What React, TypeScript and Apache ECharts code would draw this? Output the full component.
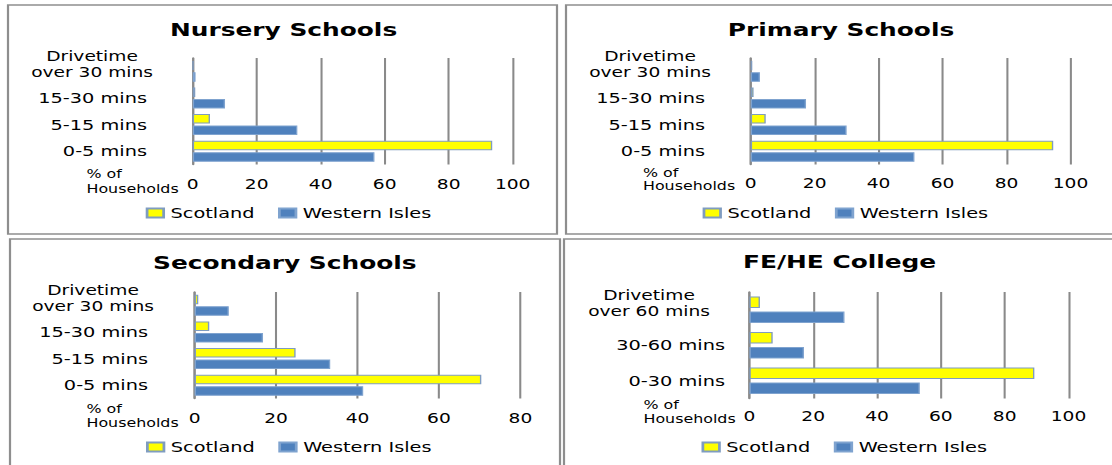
import React, { useEffect, useRef } from 'react';
import * as echarts from 'echarts';

// Drive-time bands (bottom to top on the category axis)
const schoolBands = ['0-5 mins', '5-15 mins', '15-30 mins', 'Drivetime\nover 30 mins'];
const collegeBands = ['0-30 mins', '30-60 mins', 'Drivetime\nover 60 mins'];
const seriesNames = ['Scotland', 'Western Isles'];

// % of households in each drive-time band
const nurseryScotland = [93.6, 5.4, 0.8, 0.2];
const nurseryWesternIsles = [56.8, 32.7, 10.1, 0.9];
const primaryScotland = [94.6, 4.7, 0.9, 0.5];
const primaryWesternIsles = [51.2, 30.0, 17.3, 2.9];
const secondaryScotland = [70.4, 24.8, 3.6, 0.9];
const secondaryWesternIsles = [41.4, 33.3, 16.8, 8.4];
const collegeScotland = [89.3, 7.3, 3.3];
const collegeWesternIsles = [53.4, 17.1, 29.8];

const ticksTo100 = [0, 20, 40, 60, 80, 100];
const ticksTo80 = [0, 20, 40, 60, 80];

// The whole sheet is drawn narrow and widened horizontally.
const STRETCH = 1.38;
const PAGE_W = 1112;
const PAGE_H = 465;
const BASE_W = PAGE_W / STRETCH;
const sx = (x: number) => x / STRETCH;

const FONT = 'DejaVu Sans';
const GRID_COLOR = '#8a8a8a';
const SCOT_FILL = '#FFFF00';
const SCOT_EDGE = '#7f9cc0';
const WI_FILL = '#4F81BD';
const WI_EDGE = '#7fa3cf';

type Panel = {
  title: string;
  cats: string[];
  scot: number[];
  wi: number[];
  ticks: number[];
  box: [number, number, number, number];
  grid: [number, number, number, number];
  titleX: number;
  titleY: number;
  legendX: number;
  legendY: number;
  hhX: number;
  hhY: [number, number];
  labelGap: number;
  singlePad: number;
  multiPad: number;
  tickMargin: number;
  barCat: string;
  barGap: string;
};

const panels: Panel[] = [
  {
    title: 'Nursery Schools', cats: schoolBands, scot: nurseryScotland, wi: nurseryWesternIsles, ticks: ticksTo100,
    box: [8, 5, 557, 234], grid: [192.7, 512.7, 58, 164.5], titleX: 283.6, titleY: 29.3,
    legendX: 145.7, legendY: 213, hhX: 86.5, hhY: [174, 188.5],
    labelGap: 39.7, singlePad: 6, multiPad: 0, tickMargin: 12.5, barCat: '21%', barGap: '20%',
  },
  {
    title: 'Primary Schools', cats: schoolBands, scot: primaryScotland, wi: primaryWesternIsles, ticks: ticksTo100,
    box: [566, 5, 1124, 234], grid: [750.7, 1070.5, 58, 164.5], titleX: 841, titleY: 29.3,
    legendX: 702.6, legendY: 213, hhX: 643, hhY: [172.5, 186],
    labelGap: 39.7, singlePad: 6, multiPad: 0, tickMargin: 11.5, barCat: '21%', barGap: '20%',
  },
  {
    title: 'Secondary Schools', cats: schoolBands, scot: secondaryScotland, wi: secondaryWesternIsles, ticks: ticksTo80,
    box: [10, 239, 560, 475], grid: [194.6, 520.4, 292, 398.5], titleX: 284.8, titleY: 263,
    legendX: 146, legendY: 447, hhX: 86.5, hhY: [409, 423],
    labelGap: 40.6, singlePad: 6, multiPad: 0, tickMargin: 13, barCat: '21%', barGap: '20%',
  },
  {
    title: 'FE/HE College', cats: collegeBands, scot: collegeScotland, wi: collegeWesternIsles, ticks: ticksTo100,
    box: [564, 239, 1124, 475], grid: [749.4, 1068.5, 292, 398.5], titleX: 839.6, titleY: 262,
    legendX: 701.5, legendY: 447, hhX: 643.5, hhY: [404.5, 418.5],
    labelGap: 24.4, singlePad: 0, multiPad: 15, tickMargin: 10.5, barCat: '25%', barGap: '30%',
  },
];

function buildOption() {
  const grid: any[] = [];
  const xAxis: any[] = [];
  const yAxis: any[] = [];
  const series: any[] = [];
  const legend: any[] = [];
  const graphic: any[] = [];

  panels.forEach((p, i) => {
    const [gl, gr, gt, gb] = p.grid;
    grid.push({ left: sx(gl), width: sx(gr - gl), top: gt, height: gb - gt, containLabel: false });

    xAxis.push({
      type: 'value',
      gridIndex: i,
      min: p.ticks[0],
      max: p.ticks[p.ticks.length - 1],
      interval: p.ticks[1] - p.ticks[0],
      axisLine: { show: false },
      axisTick: { show: false },
      splitLine: { show: true, lineStyle: { color: GRID_COLOR, width: 1.5 } },
      axisLabel: { margin: p.tickMargin, fontSize: 13.5, lineHeight: 14, color: '#000', fontFamily: FONT },
    });

    yAxis.push({
      type: 'category',
      gridIndex: i,
      data: p.cats,
      axisTick: { show: false },
      axisLine: { show: true, lineStyle: { color: GRID_COLOR, width: 1.5 } },
      axisLabel: {
        interval: 0,
        margin: sx(p.labelGap),
        color: '#000',
        fontFamily: FONT,
        fontSize: 14,
        formatter: (v: string) => {
          if (v.indexOf('\n') >= 0) {
            const [a, b] = v.split('\n');
            return `{multi|${a}}\n{multi|${b}}\n{gap| }`;
          }
          return `{single|${v}}`;
        },
        rich: {
          single: { fontSize: 14, fontFamily: FONT, color: '#000', lineHeight: 14, padding: [0, sx(p.singlePad), 0, 0] },
          multi: { fontSize: 13.5, fontFamily: FONT, color: '#000', lineHeight: 16, align: 'center', padding: [0, sx(p.multiPad), 0, 0] },
          gap: { fontSize: 8, fontFamily: FONT, lineHeight: 13 },
        },
      },
    });

    series.push({
      type: 'bar',
      name: seriesNames[0],
      xAxisIndex: i,
      yAxisIndex: i,
      data: p.scot,
      barCategoryGap: p.barCat,
      barGap: p.barGap,
      itemStyle: { color: SCOT_FILL, borderColor: SCOT_EDGE, borderWidth: 1 },
    });
    series.push({
      type: 'bar',
      name: seriesNames[1],
      xAxisIndex: i,
      yAxisIndex: i,
      data: p.wi,
      barCategoryGap: p.barCat,
      barGap: p.barGap,
      itemStyle: { color: WI_FILL, borderColor: WI_EDGE, borderWidth: 1 },
    });

    legend.push({
      data: seriesNames,
      left: sx(p.legendX),
      top: p.legendY - 7,
      padding: 0,
      orient: 'horizontal',
      icon: 'rect',
      itemWidth: 12,
      itemHeight: 9,
      itemGap: 17,
      selectedMode: false,
      textStyle: { fontSize: 14, lineHeight: 14, fontFamily: FONT, color: '#000' },
    });

    const [bx0, by0, bx1, by1] = p.box;
    graphic.push({
      type: 'rect',
      silent: true,
      z: -10,
      shape: { x: sx(bx0), y: by0, width: sx(bx1 - bx0), height: by1 - by0 },
      style: { fill: 'none', stroke: '#8e8e8e', lineWidth: 1.6 },
    });
    graphic.push({
      type: 'text',
      silent: true,
      x: sx(p.titleX),
      y: p.titleY,
      style: {
        text: p.title,
        fontSize: 18,
        fontWeight: 'bold',
        fontFamily: FONT,
        fill: '#000',
        align: 'center',
        verticalAlign: 'middle',
        textAlign: 'center',
        textVerticalAlign: 'middle',
      },
    });
    ['% of', 'Households'].forEach((t, k) => {
      graphic.push({
        type: 'text',
        silent: true,
        x: sx(p.hhX),
        y: p.hhY[k],
        style: {
          text: t,
          fontSize: 11.5,
          fontFamily: FONT,
          fill: '#000',
          align: 'left',
          verticalAlign: 'middle',
          textAlign: 'left',
          textVerticalAlign: 'middle',
        },
      });
    });
  });

  return {
    animation: false,
    backgroundColor: '#ffffff',
    textStyle: { fontFamily: FONT },
    grid,
    xAxis,
    yAxis,
    series,
    legend,
    graphic,
  };
}

export default function App() {
  const ref = useRef<HTMLDivElement>(null);

  useEffect(() => {
    if (!ref.current) return;
    const chart = echarts.init(ref.current, undefined, { renderer: 'svg' });
    chart.setOption(buildOption() as any);
    return () => chart.dispose();
  }, []);

  return (
    <div
      style={{
        position: 'absolute',
        left: 0,
        top: 0,
        width: BASE_W,
        height: PAGE_H,
        transform: `scaleX(${STRETCH})`,
        transformOrigin: '0 0',
        background: '#fff',
      }}
    >
      <div ref={ref} style={{ width: BASE_W, height: PAGE_H }} />
    </div>
  );
}
